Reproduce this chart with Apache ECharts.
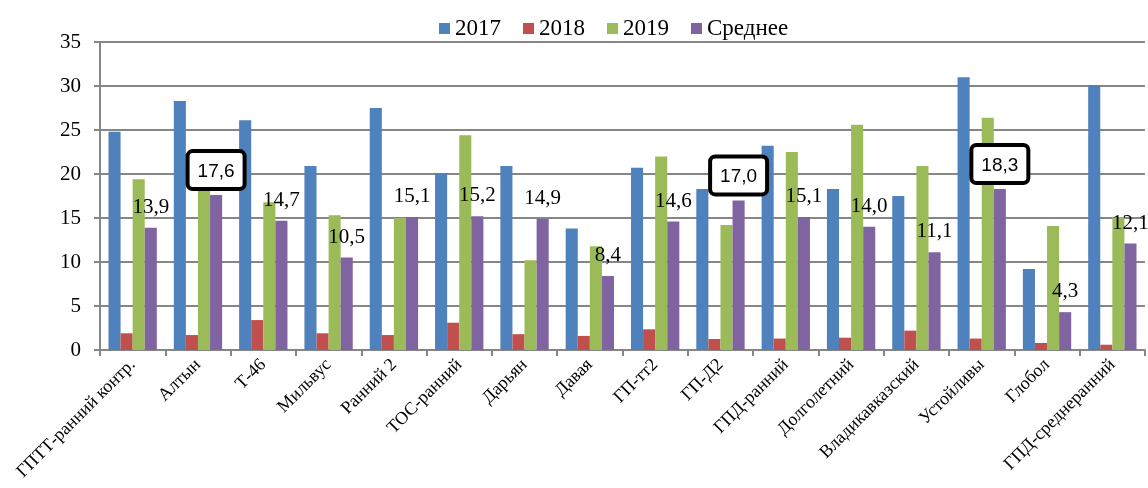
<!DOCTYPE html>
<html>
<head>
<meta charset="utf-8">
<script src="https://cdn.jsdelivr.net/npm/echarts@6/dist/echarts.min.js"></script>
<style>
  html, body { margin: 0; padding: 0; background: #fff; }
  #main { width: 1148px; height: 488px; }
</style>
</head>
<body>
<div id="main"></div>
<script>
// сорта
var categories = ['ГПТТ-ранний контр.', 'Алтын', 'Т-46', 'Мильвус', 'Ранний 2', 'ТОС-ранний', 'Дарьян', 'Давая',
  'ГП-тт2', 'ГП-Д2', 'ГПД-ранний', 'Долголетний', 'Владикавказский', 'Устойливы', 'Глобол', 'ГПД-среднеранний'];
var y2017 = [24.8, 28.3, 26.1, 20.9, 27.5, 20.1, 20.9, 13.8, 20.7, 18.3, 23.2, 18.3, 17.5, 31.0, 9.2, 30.1];
var y2018 = [1.9, 1.7, 3.4, 1.9, 1.7, 3.1, 1.8, 1.6, 2.35, 1.25, 1.3, 1.4, 2.2, 1.3, 0.8, 0.6];
var y2019 = [19.4, 19.0, 16.8, 15.3, 15.0, 24.4, 10.2, 11.8, 22.0, 14.2, 22.5, 25.6, 20.9, 26.4, 14.1, 15.1];
var avg = [13.9, 17.6, 14.7, 10.5, 15.1, 15.2, 14.9, 8.4, 14.6, 17.0, 15.1, 14.0, 11.1, 18.3, 4.3, 12.1];
var boxed = [1, 9, 13]; // подписи в рамке
var yTicks = [0, 5, 10, 15, 20, 25, 30, 35];

var serif = '"Liberation Serif", "DejaVu Serif", serif';
var fmt = function (v) { return v.toFixed(1).replace('.', ','); };

var avgData = avg.map(function (v, i) {
  if (boxed.indexOf(i) >= 0) {
    return {
      value: v,
      label: {
        fontFamily: '"Liberation Sans", Arial, sans-serif',
        fontSize: 19,
        backgroundColor: '#fff',
        borderColor: '#000',
        borderWidth: 4,
        borderRadius: 3,
        padding: [9, 8, 6, 8],
        distance: 8
      }
    };
  }
  return v;
});

var myChart = echarts.init(document.getElementById('main'));
var option = {
  animation: false,
  color: ['#4F81BD', '#C0504D', '#9BBB59', '#8064A2'],
  legend: {
    top: 12,
    left: 434,
    itemWidth: 11,
    itemHeight: 11,
    itemGap: 22,
    icon: 'rect',
    textStyle: { fontFamily: serif, fontSize: 23, color: '#000' },
    data: ['2017', '2018', '2019', 'Среднее']
  },
  grid: { left: 100, right: 3, top: 42, bottom: 138 },
  xAxis: {
    type: 'category',
    data: categories,
    axisLine: { lineStyle: { color: '#868686', width: 2 } },
    axisTick: { show: true, length: 6, lineStyle: { color: '#868686', width: 2 } },
    axisLabel: { rotate: 45, interval: 0, fontFamily: serif, fontSize: 18, color: '#000', margin: 12 }
  },
  yAxis: {
    type: 'value',
    min: 0,
    max: 35,
    interval: 5,
    axisLine: { show: true, lineStyle: { color: '#868686', width: 2 } },
    axisTick: { show: true, length: 6, lineStyle: { color: '#868686', width: 2 } },
    splitLine: { lineStyle: { color: '#868686', width: 2 } },
    axisLabel: {
      fontFamily: serif, fontSize: 21, color: '#000', margin: 19,
      formatter: function (v) { return yTicks.indexOf(v) >= 0 ? String(v) : ''; }
    }
  },
  series: [
    { name: '2017', type: 'bar', data: y2017, barGap: '0%', barCategoryGap: '26%' },
    { name: '2018', type: 'bar', data: y2018, barGap: '0%', barCategoryGap: '26%' },
    { name: '2019', type: 'bar', data: y2019, barGap: '0%', barCategoryGap: '26%' },
    {
      name: 'Среднее', type: 'bar', data: avgData, barGap: '0%', barCategoryGap: '26%', z: 3,
      label: {
        show: true,
        position: 'top',
        distance: 10,
        fontFamily: serif,
        fontSize: 21,
        color: '#000',
        formatter: function (p) { return fmt(p.value); }
      }
    }
  ]
};
myChart.setOption(option);
</script>
</body>
</html>
